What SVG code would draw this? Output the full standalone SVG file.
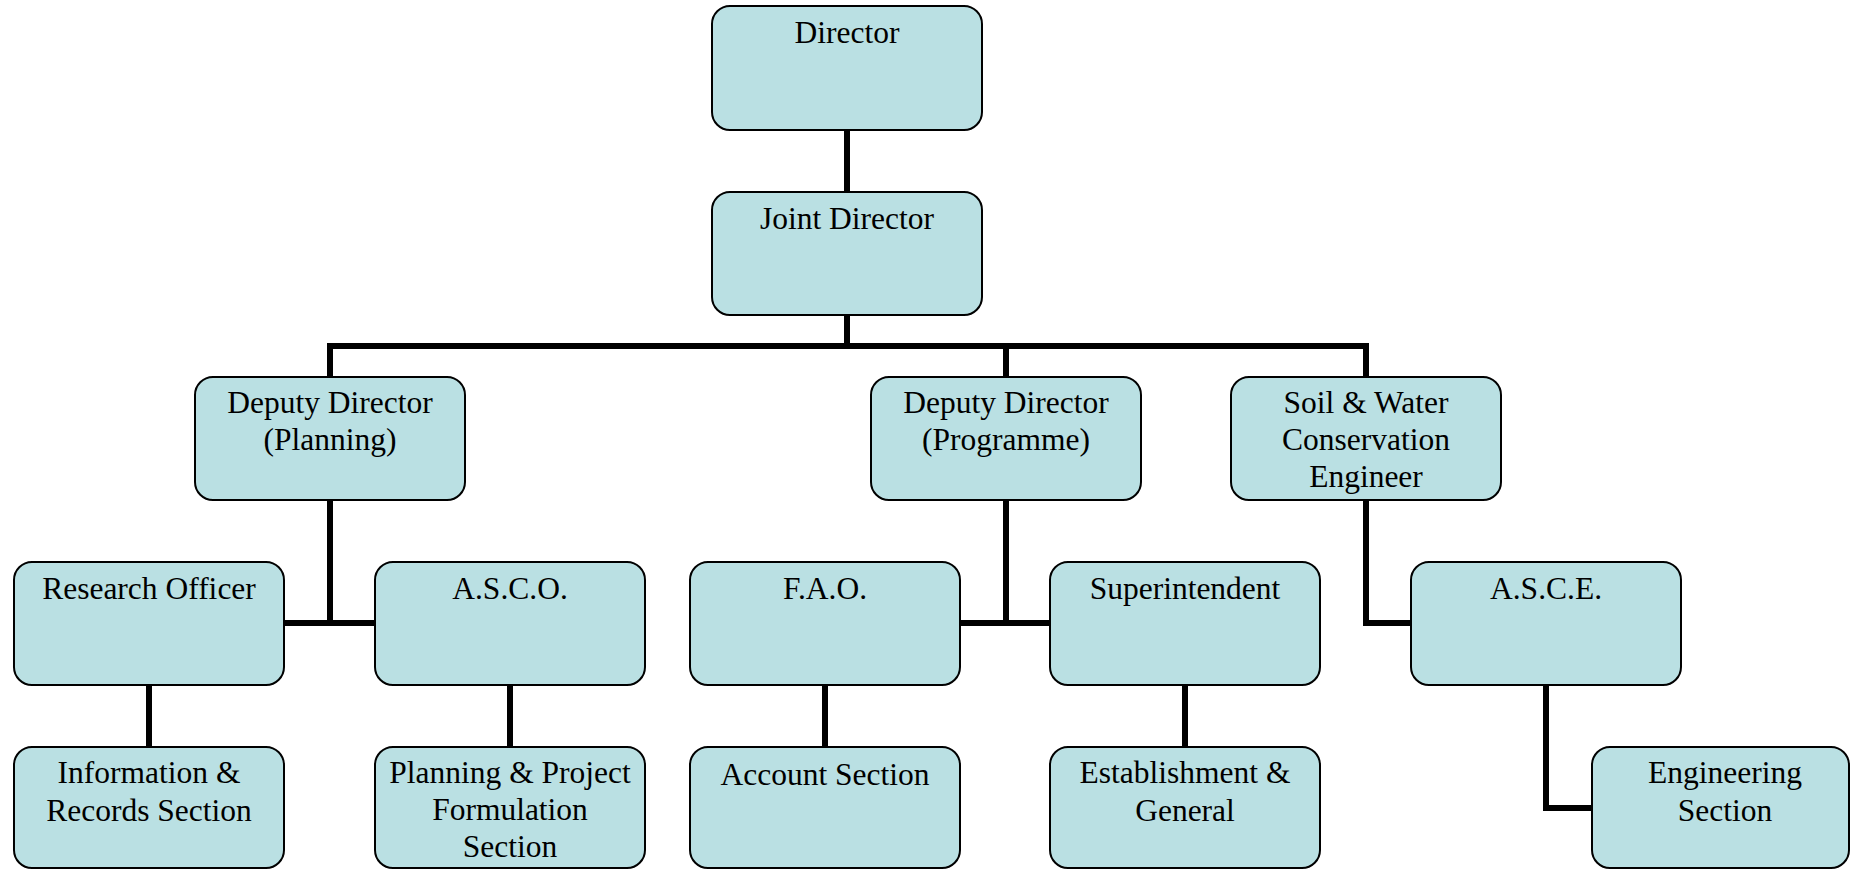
<svg xmlns="http://www.w3.org/2000/svg" width="1850" height="870" viewBox="0 0 1850 870">
<style>
.box{fill:#BAE0E3;stroke:#000;stroke-width:2}
.lbl{font-family:"Liberation Serif","Times New Roman",serif;font-size:31.5px;fill:#000;text-anchor:middle}
.con{fill:none;stroke:#000;stroke-width:6;stroke-linejoin:miter;stroke-linecap:butt}
</style>
<rect width="1850" height="870" fill="#fff"/>
<g id="connectors">
<path class="con" d="M847 130V192"/>
<path class="con" d="M847 315V346"/>
<path class="con" d="M330 377V346H1366V377"/>
<path class="con" d="M1006 346V377"/>
<path class="con" d="M330 500V623"/>
<path class="con" d="M284 623H375"/>
<path class="con" d="M149 685V747"/>
<path class="con" d="M510 685V747"/>
<path class="con" d="M1006 500V623"/>
<path class="con" d="M960 623H1050"/>
<path class="con" d="M825 685V747"/>
<path class="con" d="M1185 685V747"/>
<path class="con" d="M1366 500V623H1411"/>
<path class="con" d="M1546 685V808H1592"/>
</g>
<g id="director"><rect class="box" x="712" y="6" width="270" height="124" rx="18"/><text class="lbl" x="847" y="43">Director</text></g>
<g id="joint-director"><rect class="box" x="712" y="192" width="270" height="123" rx="18"/><text class="lbl" x="847" y="229">Joint Director</text></g>
<g id="dd-planning"><rect class="box" x="195" y="377" width="270" height="123" rx="18"/><text class="lbl" x="330" y="413">Deputy Director</text><text class="lbl" x="330" y="450">(Planning)</text></g>
<g id="dd-programme"><rect class="box" x="871" y="377" width="270" height="123" rx="18"/><text class="lbl" x="1006" y="413">Deputy Director</text><text class="lbl" x="1006" y="450">(Programme)</text></g>
<g id="swce"><rect class="box" x="1231" y="377" width="270" height="123" rx="18"/><text class="lbl" x="1366" y="413">Soil &amp; Water</text><text class="lbl" x="1366" y="450">Conservation</text><text class="lbl" x="1366" y="487">Engineer</text></g>
<g id="research-officer"><rect class="box" x="14" y="562" width="270" height="123" rx="18"/><text class="lbl" x="149" y="599">Research Officer</text></g>
<g id="asco"><rect class="box" x="375" y="562" width="270" height="123" rx="18"/><text class="lbl" x="510" y="599">A.S.C.O.</text></g>
<g id="fao"><rect class="box" x="690" y="562" width="270" height="123" rx="18"/><text class="lbl" x="825" y="599">F.A.O.</text></g>
<g id="superintendent"><rect class="box" x="1050" y="562" width="270" height="123" rx="18"/><text class="lbl" x="1185" y="599">Superintendent</text></g>
<g id="asce"><rect class="box" x="1411" y="562" width="270" height="123" rx="18"/><text class="lbl" x="1546" y="599">A.S.C.E.</text></g>
<g id="info-records"><rect class="box" x="14" y="747" width="270" height="121" rx="18"/><text class="lbl" x="149" y="783">Information &amp;</text><text class="lbl" x="149" y="821">Records Section</text></g>
<g id="planning-project"><rect class="box" x="375" y="747" width="270" height="121" rx="18"/><text class="lbl" x="510" y="783">Planning &amp; Project</text><text class="lbl" x="510" y="820">Formulation</text><text class="lbl" x="510" y="857">Section</text></g>
<g id="account-section"><rect class="box" x="690" y="747" width="270" height="121" rx="18"/><text class="lbl" x="825" y="785">Account Section</text></g>
<g id="establishment"><rect class="box" x="1050" y="747" width="270" height="121" rx="18"/><text class="lbl" x="1185" y="783">Establishment &amp;</text><text class="lbl" x="1185" y="821">General</text></g>
<g id="engineering-section"><rect class="box" x="1592" y="747" width="257" height="121" rx="18"/><text class="lbl" x="1725" y="783">Engineering</text><text class="lbl" x="1725" y="821">Section</text></g>
</svg>
